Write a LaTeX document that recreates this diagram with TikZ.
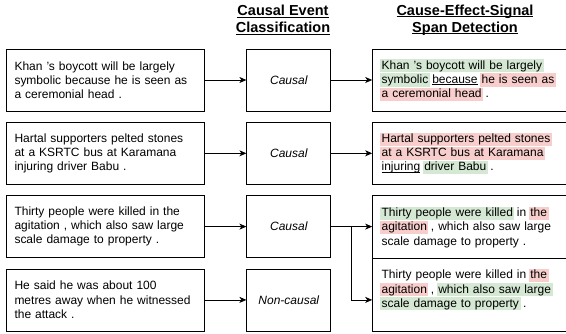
\documentclass[tikz,border=0pt]{standalone}
\usepackage{fontspec}
\setmainfont{Liberation Sans}
\usetikzlibrary{arrows.meta,positioning,calc}
\definecolor{causefill}{HTML}{D5E8D4}
\definecolor{effectfill}{HTML}{F8CECC}
\newcommand{\bodyfont}{\fontsize{12}{14.2}\selectfont}
\newcommand{\headfont}{\fontsize{14.5}{17}\selectfont\bfseries}
\newcommand{\hlstrut}{\vrule height 10pt depth 3.1pt width 0pt}
\newcommand{\hlcause}[1]{\leavevmode{\setlength{\fboxsep}{0pt}\kern-1.5pt\colorbox{causefill}{\kern1.5pt\hlstrut#1\kern1.5pt}\kern-1.5pt}}
\newcommand{\hleffect}[1]{\leavevmode{\setlength{\fboxsep}{0pt}\kern-1.5pt\colorbox{effectfill}{\kern1.5pt\hlstrut#1\kern1.5pt}\kern-1.5pt}}
\newcommand{\ulword}[1]{\leavevmode{\setbox0\hbox{#1}\rlap{\vrule width\wd0 height -0.9pt depth 1.9pt}\box0}}
\tikzset{
  srcbox/.style = {rectangle, draw, line width=0.8pt, minimum width=198pt, minimum height=62pt, text width=181pt, inner xsep=8.5pt, align=left, font=\bodyfont},
  clsbox/.style = {rectangle, draw, line width=0.8pt, minimum width=84pt, minimum height=62pt, align=center, font=\bodyfont\itshape},
  resbox/.style = {rectangle, draw, line width=0.8pt, minimum width=194pt, minimum height=62pt, text width=176pt, inner xsep=9pt, align=left, font=\bodyfont},
  header/.style = {align=center, font=\headfont},
  myarrow/.style = {-{Stealth[length=7pt,width=6pt,inset=2pt]}, line width=0.8pt},
}
\begin{document}
\begin{tikzpicture}[x=1pt, y=-1pt]
\useasboundingbox (0,0) rectangle (566,333);
% column headers
\node[header] (hdcls) at (283,20) {\ulword{Causal Event}\\\ulword{Classification}};
\node[header] (hdres) at (465,20) {\ulword{Cause-Effect-Signal}\\\ulword{Span Detection}};
% input sentences
\node[srcbox] (src1) at (105,80) {Khan 's boycott will be largely\\ symbolic because he is seen as\\ a ceremonial head .};
\node[srcbox, below=10.5pt of src1] (src2) {Hartal supporters pelted stones\\ at a KSRTC bus at Karamana\\ injuring driver Babu .};
\node[srcbox, below=10.5pt of src2] (src3) {Thirty people were killed in the\\ agitation , which also saw large\\ scale damage to property .};
\node[srcbox, below=10.5pt of src3] (src4) {He said he was about 100\\ metres away when he witnessed\\ the attack .};
% classification
\node[clsbox, right=42pt of src1] (cls1) {Causal};
\node[clsbox, right=42pt of src2] (cls2) {Causal};
\node[clsbox, right=42pt of src3] (cls3) {Causal};
\node[clsbox, right=42pt of src4] (cls4) {Non-causal};
% span detection
\node[resbox, right=41pt of cls1] (res1) {\hlcause{Khan 's boycott will be largely}\\ \hlcause{symbolic} \ulword{because} \hleffect{he is seen as}\\ \hleffect{a ceremonial head} .};
\node[resbox, right=41pt of cls2] (res2) {\hleffect{Hartal supporters pelted stones}\\ \hleffect{at a KSRTC bus at Karamana}\\ \ulword{injuring} \hlcause{driver Babu} .};
\node[resbox, below=10.5pt of res2, minimum height=63pt] (res3) {\hlcause{Thirty people were killed} in \hleffect{the}\\ \hleffect{agitation} , which also saw large\\ scale damage to property .};
\node[resbox, below=-0.8pt of res3, minimum height=73pt] (res4) {Thirty people were killed in \hleffect{the}\\ \hleffect{agitation} , \hlcause{which also saw large}\\ \hlcause{scale damage to property} .\rule[-14pt]{0pt}{1pt}};
% connectors
\foreach \i in {1,...,4}
  \draw[myarrow] (src\i.east) -- (cls\i.west);
\foreach \i in {1,2,3}
  \draw[myarrow] (cls\i.east) -- (res\i.west |- cls\i.east);
\coordinate (fork) at ($(cls3.east)!0.5!(res3.west |- cls3.east)$);
\draw[myarrow] (fork) |- (res4.west |- cls4.east);
\end{tikzpicture}
\end{document}
